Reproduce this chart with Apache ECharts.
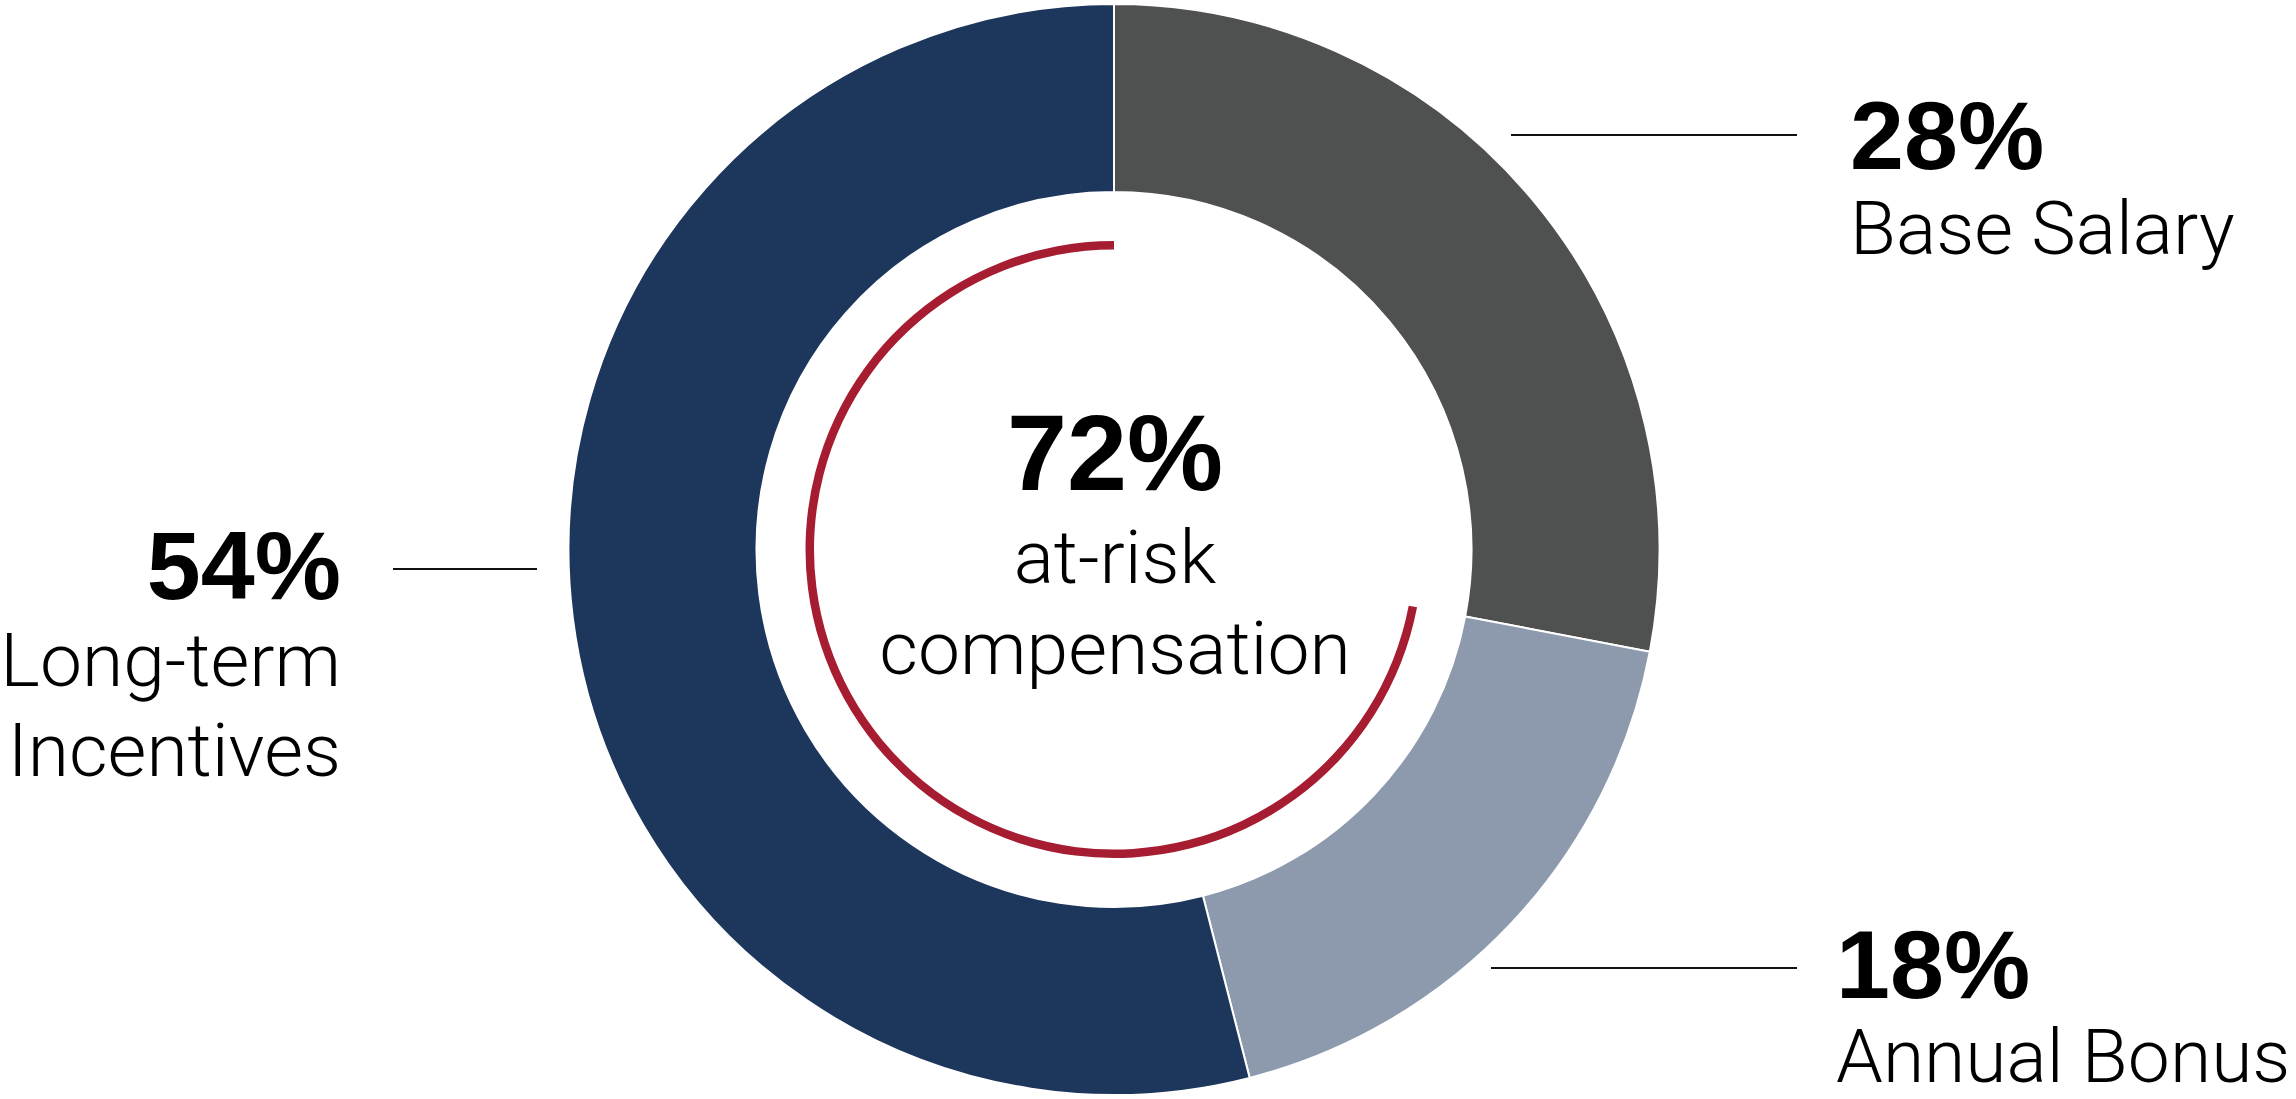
<!DOCTYPE html>
<html>
<head>
<meta charset="utf-8">
<script src="https://cdn.jsdelivr.net/npm/echarts@6/dist/echarts.min.js"></script>
<style>
html,body{margin:0;padding:0;background:#fff;}
#chart{width:2296px;height:1099px;}
</style>
</head>
<body>
<div id="chart"></div>
<script>
// ---- data ----
const categories = ['Base Salary', 'Annual Bonus', 'Long-term Incentives'];
const labelLines = [['Base Salary'], ['Annual Bonus'], ['Long-term', 'Incentives']];
const values = [28, 18, 54];
const atRiskShare = 72;
const centerLines = ['at-risk', 'compensation'];

// ---- styles / layout ----
const colors = ['#4F5150', '#8D9AAD', '#1C365C'];
const riskColor = '#A61C31';
const C = [1114, 549.5];
const boldFont = '"Liberation Sans", Arial, sans-serif';
const lightFont = 'Roboto, "Liberation Sans", sans-serif';

// label placement per category: line segment, text anchor, alignment
const labelPos = [
  {line: [1511, 135, 1797, 135], x: 1850, y: [135, 228], align: 'left'},
  {line: [1491, 968, 1797, 968], x: 1836, y: [964, 1056], align: 'left'},
  {line: [393, 569, 537, 569], x: 341, y: [565, 660, 750], align: 'right'}
];

const graphics = [];
values.forEach((v, i) => {
  const p = labelPos[i];
  graphics.push({
    type: 'line', silent: true,
    shape: {x1: p.line[0], y1: p.line[1], x2: p.line[2], y2: p.line[3]},
    style: {stroke: '#111', lineWidth: 2}
  });
  graphics.push({
    type: 'text', x: p.x, y: p.y[0],
    style: {text: v + '%', font: 'bold 97px ' + boldFont, fill: '#000', align: p.align, verticalAlign: 'middle', lineHeight: 80}
  });
  labelLines[i].forEach((t, k) => {
    graphics.push({
      type: 'text', x: p.x, y: p.y[k + 1],
      style: {text: t, font: '300 75px ' + lightFont, fill: '#000', align: p.align, verticalAlign: 'middle', lineHeight: 66}
    });
  });
});
graphics.push({
  type: 'text', x: 1115, y: 452,
  style: {text: atRiskShare + '%', font: 'bold 108px ' + boldFont, fill: '#000', align: 'center', verticalAlign: 'middle', lineHeight: 90}
});
centerLines.forEach((t, k) => {
  graphics.push({
    type: 'text', x: 1115, y: [557, 648][k],
    style: {text: t, font: '300 75px ' + lightFont, fill: '#000', align: 'center', verticalAlign: 'middle', lineHeight: 66}
  });
});

const chart = echarts.init(document.getElementById('chart'), null, {renderer: 'svg'});
chart.setOption({
  animation: false,
  backgroundColor: '#fff',
  series: [
    {
      type: 'pie',
      center: C,
      radius: [357.5, 545.5],
      startAngle: 90,
      clockwise: true,
      silent: true,
      label: {show: false},
      labelLine: {show: false},
      itemStyle: {borderColor: '#fff', borderWidth: 2},
      data: categories.map((c, i) => ({name: c, value: values[i], itemStyle: {color: colors[i]}}))
    },
    {
      type: 'pie',
      center: C,
      radius: [300, 308.5],
      startAngle: 90,
      clockwise: true,
      silent: true,
      label: {show: false},
      labelLine: {show: false},
      data: [
        {name: 'fixed', value: 100 - atRiskShare, itemStyle: {color: 'rgba(0,0,0,0)'}},
        {name: 'at-risk', value: atRiskShare, itemStyle: {color: riskColor}}
      ]
    }
  ],
  graphic: graphics
});
</script>
</body>
</html>
